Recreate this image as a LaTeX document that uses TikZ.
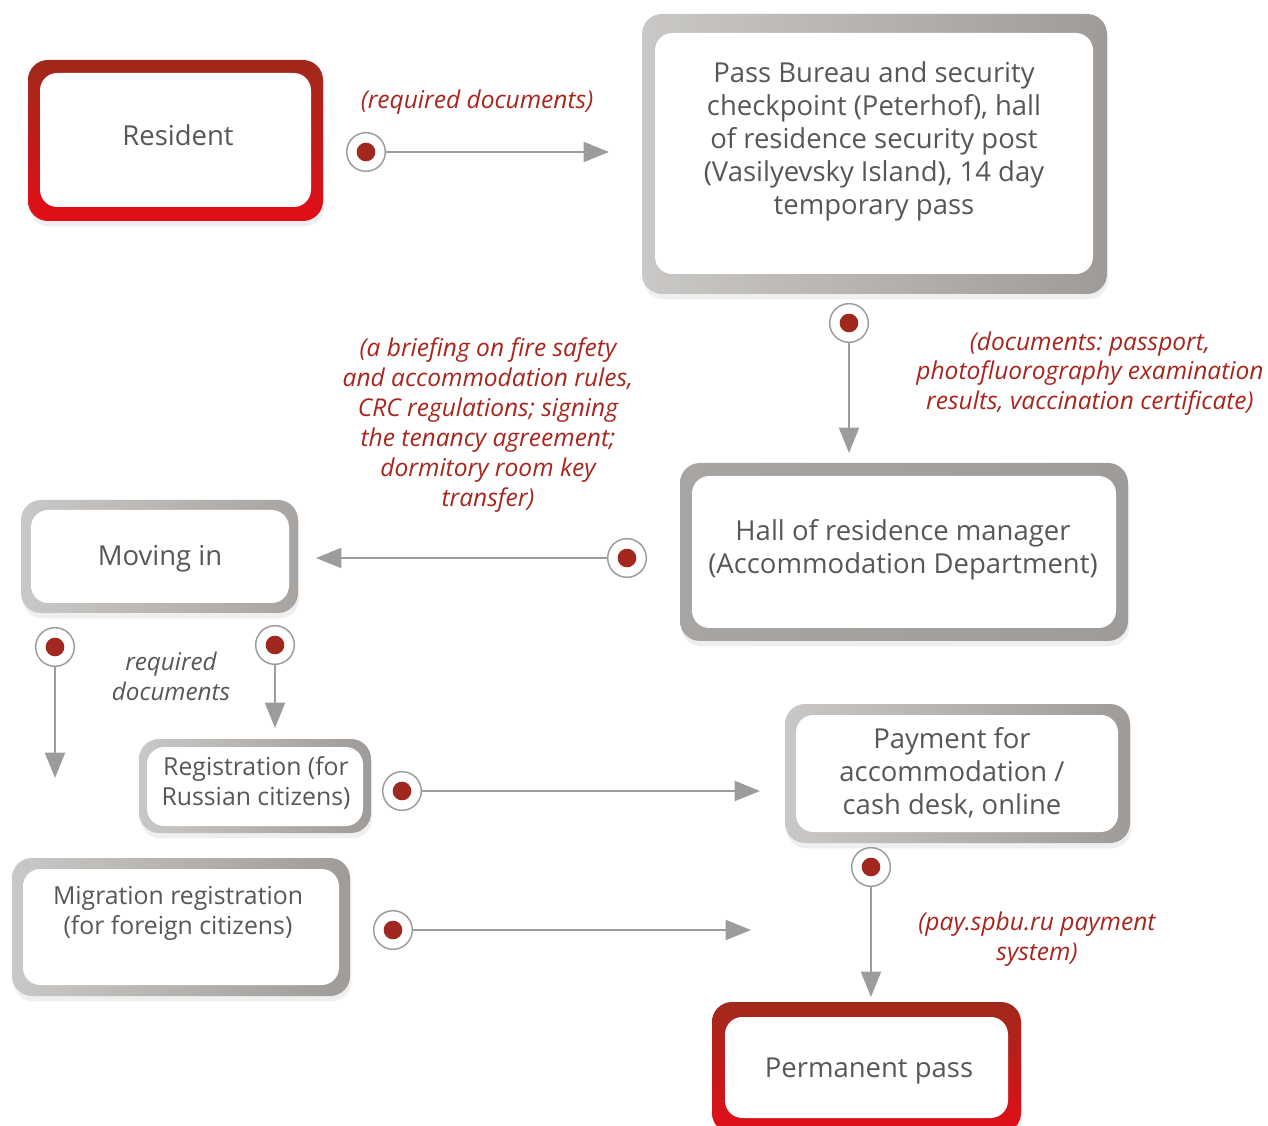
\documentclass[tikz,border=0pt]{standalone}
\usepackage{fontspec}
\setmainfont{Open Sans}
\frenchspacing
\usetikzlibrary{arrows.meta,shadows}
\definecolor{txtgray}{HTML}{575757}
\definecolor{lblred}{HTML}{A8261E}
\definecolor{linegray}{HTML}{9C9C9C}
\definecolor{dotred}{HTML}{A0281E}
\definecolor{redtop}{HTML}{A0291B}
\definecolor{redbot}{HTML}{E20E18}
\definecolor{glight}{HTML}{CAC8C6}
\definecolor{gdark}{HTML}{9F9B98}
\definecolor{gmid}{HTML}{A8A4A1}
\tikzset{
  sz/.style 2 args={minimum width=#1*0.75pt, minimum height=#2*0.75pt, inner sep=0pt},
  shad/.style={drop shadow={opacity=0.12, shadow xshift=1pt, shadow yshift=-4pt}},
  gframe/.style 2 args={rectangle, rounded corners=15pt, draw=none, left color=#1, right color=#2, shad},
  rframe/.style={rectangle, rounded corners=15pt, draw=none, top color=redtop, bottom color=redbot, shad},
  innerbox/.style={rectangle, rounded corners=13pt, fill=white, draw=none},
  bigtxt/.style={text=txtgray, align=center, font=\fontsize{20.6}{24.75}\selectfont},
  smalltxt/.style={text=txtgray, align=center, font=\fontsize{18.6}{22.3}\selectfont},
  lbl/.style={text=lblred, align=center, font=\fontsize{18.4}{22.4}\selectfont\itshape},
  glbl/.style={text=txtgray, align=center, font=\fontsize{18.2}{22.0}\selectfont\itshape},
  marker/.style={circle, draw=linegray, line width=1.1pt, fill=white, minimum size=29pt, inner sep=0pt,
    path picture={\fill[dotred] (path picture bounding box.center) circle (7pt);}},
  conn/.style={draw=linegray, line width=1.5pt, -{Triangle[length=19pt,width=15pt]}}
}
\begin{document}
\begin{tikzpicture}[x=0.75pt,y=-0.75pt]
\useasboundingbox[fill=white] (0,0) rectangle (1268,1126);

% Resident
\node[rframe, sz={295}{161}] (residentF) at (175.5,140.5) {};
\node[innerbox, sz={271}{134}] (residentI) at (175.5,140) {};
\node[bigtxt] (resident) at (178,135) {Resident};

% Pass bureau
\node[gframe={glight}{gdark}, sz={465}{280}] (passF) at (874.5,154) {};
\node[innerbox, sz={438}{241}] (passI) at (874,153.5) {};
\node[bigtxt] (pass) at (874,141) {Pass Bureau and security\\checkpoint (Peterhof), hall\\of residence security post\\(Vasilyevsky Island), 14 day\\temporary pass};

% Hall of residence manager
\node[gframe={gmid}{gdark}, sz={448}{178}] (hallF) at (904,552) {};
\node[innerbox, sz={424}{152}] (hallI) at (904,552) {};
\node[bigtxt] (hall) at (903,550) {Hall of residence manager\\(Accommodation Department)};

% Moving in
\node[gframe={glight}{gmid}, sz={277}{113}] (movingF) at (159.5,556.5) {};
\node[innerbox, sz={258}{93}] (movingI) at (160,556.5) {};
\node[bigtxt] (moving) at (160,559) {Moving in};

% Registration
\node[gframe={glight}{gdark}, sz={232}{94}] (regF) at (255,786) {};
\node[innerbox, sz={216}{79}] (regI) at (255,786.5) {};
\node[smalltxt] (reg) at (256,783) {Registration (for\\Russian citizens)};

% Payment
\node[gframe={glight}{gdark}, sz={345}{139}] (payF) at (957.5,773.5) {};
\node[innerbox, sz={322}{117}] (payI) at (957,773.5) {};
\node[bigtxt] (pay) at (952,773) {Payment for\\accommodation /\\cash desk, online};

% Migration
\node[gframe={glight}{gdark}, sz={338}{138}] (migF) at (181,927) {};
\node[innerbox, sz={316}{116}] (migI) at (181,927) {};
\node[smalltxt] (mig) at (178,913.5) {Migration registration\\(for foreign citizens)};

% Permanent pass
\node[rframe, sz={309}{131}] (permF) at (866.5,1067.5) {};
\node[innerbox, sz={283}{101}] (permI) at (866.5,1067.5) {};
\node[bigtxt] (perm) at (869,1071) {Permanent pass};

% Labels
\node[lbl] (l1) at (477,102) {(required documents)};
\node[lbl] (l2) at (488,425) {(a briefing on fire safety\\and accommodation rules,\\CRC regulations; signing\\the tenancy agreement;\\dormitory room key\\transfer)};
\node[lbl] (l3) at (1090,373.5) {(documents: passport,\\photofluorography examination\\results, vaccination certificate)};
\node[glbl] (l4) at (171,676.5) {required\\documents};
\node[lbl] (l5) at (1037,939) {(pay.spbu.ru payment\\system)};

% Connectors
\node[marker] (m1) at (366,152) {};
\coordinate (t1) at (609,152);
\draw[conn] (m1) -- (t1);

\node[marker] (m2) at (849,323) {};
\coordinate (t2) at (849,453);
\draw[conn] (m2) -- (t2);

\node[marker] (m3) at (627,558) {};
\coordinate (t3) at (316,558);
\draw[conn] (m3) -- (t3);

\node[marker] (m4) at (55,647) {};
\coordinate (t4) at (55,778);
\draw[conn] (m4) -- (t4);

\node[marker] (m5) at (275,645) {};
\coordinate (t5) at (275,728);
\draw[conn] (m5) -- (t5);

\node[marker] (m6) at (402,791) {};
\coordinate (t6) at (760,791);
\draw[conn] (m6) -- (t6);

\node[marker] (m7) at (393,930) {};
\coordinate (t7) at (751,930);
\draw[conn] (m7) -- (t7);

\node[marker] (m8) at (871,867) {};
\coordinate (t8) at (871,997);
\draw[conn] (m8) -- (t8);
\end{tikzpicture}
\end{document}
